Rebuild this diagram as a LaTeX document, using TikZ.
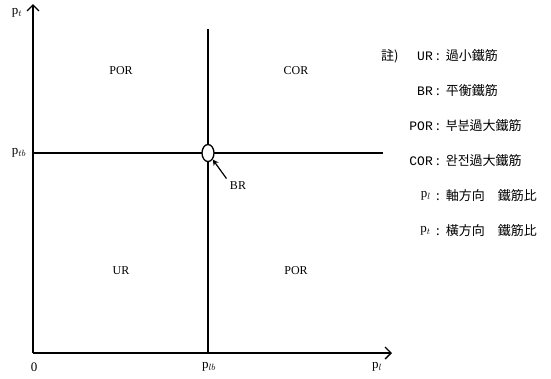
\documentclass[tikz,border=0pt]{standalone}
\usepackage{fontspec}
\setmainfont{Liberation Serif}
\newfontfamily\kor{Noto Sans CJK KR}
\newfontfamily\abbr{Liberation Mono}
\usetikzlibrary{arrows.meta,positioning,shapes.geometric}

\begin{document}
\begin{tikzpicture}[x=1pt,y=-1pt,
	axis/.style={line width=1.3pt,-{Straight Barb[length=6pt,width=12pt,line width=1.3pt]}},
	divline/.style={line width=1.2pt},
	region/.style={font=\fontsize{12}{14}\selectfont},
	lbl/.style={font=\fontsize{13}{15}\selectfont,inner sep=1pt},
	keyabbr/.style={anchor=east,font=\abbr\fontsize{13}{15}\selectfont,inner sep=0pt},
	keytext/.style={anchor=west,font=\kor\fontsize{13}{15}\selectfont,inner sep=0pt}]
	\useasboundingbox (0,0) rectangle (551,378);
	% axes
	\coordinate (O) at (33,353);
	\coordinate (xend) at (392,353);
	\coordinate (yend) at (33,4);
	\draw[axis] (O) -- (xend);
	\draw[axis] (O) -- (yend);
	% balance lines
	\coordinate (hstart) at (33,153);
	\coordinate (hend) at (383,153);
	\coordinate (vtop) at (208,29);
	\coordinate (vbot) at (208,353);
	\draw[divline] (hstart) -- (hend);
	\draw[divline] (vbot) -- (vtop);
	\node[ellipse,draw,line width=1.3pt,fill=white,minimum width=12pt,minimum height=17pt,inner sep=0pt] (br) at (208,153) {};
	\node[region] (brlab) at (238,186) {BR};
	\draw[line width=1.2pt,-{Stealth[length=6pt,width=6pt]}] (brlab.north west) -- (br.south east);
	% axis labels
	\node[lbl] (pt) at (17,13) {p$_t$};
	\node[lbl] (ptb) at (19,153) {p$_{tb}$};
	\node[lbl] (zero) at (34,367) {0};
	\node[lbl] (plb) at (209,367) {p$_{lb}$};
	\node[lbl] (pl) at (377,367) {p$_l$};
	% regions
	\node[region] (por1) at (121,71) {POR};
	\node[region] (cor) at (296,71) {COR};
	\node[region] (ur) at (121,271) {UR};
	\node[region] (por2) at (296,271) {POR};
	% key
	\node[keytext] (note) at (381,56) {註)};
	\foreach \y/\ab/\tx in {56/UR/過小鐵筋, 91/BR/平衡鐵筋, 126/POR/부분過大鐵筋, 161/COR/완전過大鐵筋}{
		\node[keyabbr] at (433,\y) {\ab};
		\node[keytext] at (436,\y) {:\hspace{6pt}\tx};
	}
	\node[keyabbr,font=\fontsize{13}{15}\selectfont] (kpl) at (431,196) {p$_l$};
	\node[keytext] (kpltx) at (436,196) {:\hspace{6pt}軸方向\hspace{13pt}鐵筋比};
	\node[keyabbr,font=\fontsize{13}{15}\selectfont] (kpt) at (431,231) {p$_t$};
	\node[keytext] (kpttx) at (436,231) {:\hspace{6pt}橫方向\hspace{13pt}鐵筋比};
\end{tikzpicture}
\end{document}
